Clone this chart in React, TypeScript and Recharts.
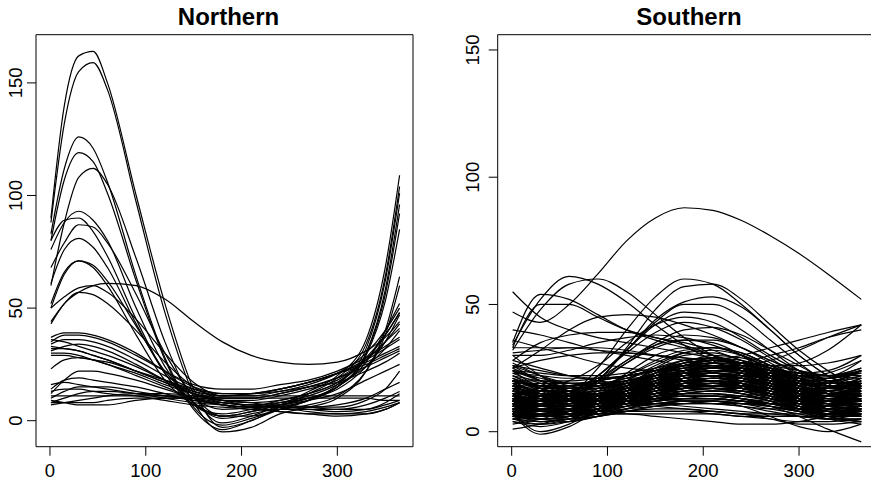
import React from "react";
import { LineChart, Line, XAxis, YAxis, ReferenceArea } from "recharts";

// ---------- Northern panel ----------
const northDays = [1, 15, 30, 45, 60, 90, 120, 150, 180, 210, 240, 270, 300, 330, 350, 365];

const northTall: number[][] = [
  [90, 140, 162, 164, 150, 100, 52, 14, -3, 0, 6, 12, 19, 34, 64, 104],
  [88, 132, 155, 159, 147, 97, 48, 12, -1, 2, 7, 13, 20, 36, 68, 109],
  [83, 112, 126, 121, 106, 64, 28, 6, -2, 1, 5, 9, 15, 30, 58, 96],
  [80, 107, 119, 115, 101, 62, 27, 5, -4, 0, 5, 9, 16, 32, 62, 101],
  [60, 88, 108, 112, 105, 72, 35, 8, -5, -3, 3, 6, 10, 22, 40, 64],
];

const northPeaked: number[][] = [
  [76, 88, 93, 89, 80, 50, 24, 8, 1, 3, 6, 9, 15, 30, 56, 92],
  [80, 89, 90, 84, 73, 45, 21, 7, 2, 4, 7, 10, 15, 29, 53, 85],
  [68, 79, 87, 86, 79, 56, 30, 11, 2, 2, 5, 7, 11, 22, 38, 60],
  [61, 76, 81, 77, 68, 43, 21, 8, 2, 4, 7, 10, 15, 26, 40, 52],
  [50, 65, 71, 69, 62, 42, 22, 10, 5, 6, 9, 12, 17, 27, 38, 48],
  [52, 66, 71, 68, 60, 38, 18, 7, 3, 5, 8, 11, 16, 24, 32, 40],
  [44, 52, 57, 60, 61, 60, 54, 44, 35, 29, 26, 25, 26, 31, 37, 44],
  [50, 55, 59, 60, 57, 45, 30, 17, 11, 11, 13, 16, 21, 30, 40, 50],
  [43, 52, 57, 56, 52, 40, 26, 15, 10, 10, 12, 15, 19, 27, 35, 43],
];

const northMid: number[][] = [
  [35, 38, 38, 37, 35, 29, 22, 16, 14, 14, 16, 18, 22, 28, 33, 37],
  [37, 39, 39, 38, 36, 30, 22, 15, 12, 12, 14, 17, 21, 27, 32, 36],
  [34, 36, 36, 35, 33, 27, 20, 14, 11, 12, 14, 17, 21, 26, 30, 33],
  [32, 32, 31, 29, 27, 22, 17, 13, 11, 12, 14, 17, 21, 25, 29, 32],
  [30, 30, 29, 27, 25, 21, 16, 12, 10, 10, 12, 15, 19, 24, 28, 31],
  [33, 32, 31, 29, 27, 22, 17, 12, 9, 9, 11, 14, 18, 27, 35, 41],
  [36, 35, 33, 31, 29, 24, 18, 13, 9, 8, 9, 12, 17, 28, 38, 48],
  [29, 29, 28, 27, 26, 22, 18, 14, 12, 12, 13, 15, 17, 22, 26, 30],
  [31, 33, 34, 33, 31, 25, 18, 12, 8, 7, 8, 10, 14, 24, 35, 47],
  [23, 27, 28, 27, 25, 20, 15, 10, 7, 6, 7, 9, 12, 18, 22, 25],
];

const northLow: number[][] = [
  [12, 18, 22, 22, 21, 18, 14, 10, 7, 5, 5, 5, 5, 7, 10, 13],
  [14, 18, 19, 18, 17, 15, 12, 9, 7, 6, 6, 5, 4, 5, 8, 12],
  [10, 13, 15, 15, 15, 13, 11, 9, 8, 7, 7, 6, 5, 5, 7, 9],
  [8, 8, 8, 8, 9, 10, 10, 10, 10, 10, 10, 10, 10, 10, 9, 9],
  [9, 8, 7, 7, 7, 9, 10, 10, 9, 8, 6, 4, 3, 3, 5, 8],
  [11, 11, 11, 11, 11, 11, 11, 11, 11, 11, 11, 11, 11, 11, 11, 11],
  [16, 17, 16, 15, 14, 12, 10, 8, 7, 6, 6, 6, 7, 10, 14, 17],
  [13, 14, 14, 13, 12, 11, 9, 7, 6, 5, 4, 3, 2, 3, 5, 8],
  [8, 10, 12, 13, 13, 12, 11, 10, 8, 7, 6, 6, 6, 9, 14, 22],
  [7, 8, 9, 10, 11, 12, 12, 11, 9, 6, 4, 3, 3, 4, 6, 8],
];

// ---------- Southern panel ----------
const southDays = [1, 30, 60, 90, 120, 150, 180, 210, 240, 270, 300, 330, 365];

const southUpper: number[][] = [
  [47, 43, 50, 62, 75, 84, 88, 87, 83, 77, 70, 62, 52],
  [55, 45, 40, 37, 35, 33, 31, 29, 27, 26, 27, 32, 42],
  [34, 52, 61, 58, 51, 42, 34, 28, 22, 17, 14, 12, 18],
  [32, 48, 58, 60, 55, 46, 37, 30, 25, 21, 18, 16, 20],
  [35, 54, 52, 46, 40, 36, 33, 30, 27, 24, 22, 22, 28],
  [33, 50, 50, 45, 40, 37, 35, 32, 28, 25, 23, 24, 30],
  [25, 32, 40, 45, 46, 45, 42, 38, 33, 28, 24, 22, 24],
];

const southSummer: number[][] = [
  [12, 10, 14, 25, 40, 53, 60, 58, 50, 40, 30, 22, 15],
  [15, 12, 13, 20, 33, 48, 57, 58, 52, 42, 32, 24, 17],
  [18, 15, 16, 22, 32, 44, 51, 53, 49, 40, 30, 22, 18],
  [10, 9, 12, 20, 32, 43, 50, 50, 45, 36, 27, 19, 12],
  [14, 13, 15, 22, 32, 42, 47, 46, 40, 32, 24, 18, 14],
  [20, 18, 20, 26, 35, 42, 45, 43, 37, 30, 24, 20, 19],
  [12, 12, 15, 22, 31, 39, 43, 41, 36, 29, 22, 16, 12],
  [16, 14, 16, 21, 28, 35, 40, 41, 38, 32, 26, 20, 16],
  [10, 10, 13, 19, 27, 34, 38, 37, 33, 27, 21, 15, 10],
  [15, 12, 14, 20, 28, 34, 36, 35, 30, 22, 14, 9, 10],
  [20, 16, 16, 20, 27, 33, 36, 36, 33, 28, 23, 19, 19],
  [12, 11, 12, 16, 23, 30, 33, 33, 30, 24, 17, 12, 12],
];

const southFlat: number[][] = [
  [40, 38, 35, 32, 30, 28, 26, 25, 26, 28, 32, 37, 42],
  [36, 33, 30, 27, 25, 24, 24, 25, 27, 30, 33, 37, 40],
  [33, 33, 33, 32, 31, 30, 29, 28, 27, 26, 26, 27, 30],
  [31, 32, 33, 33, 32, 30, 28, 26, 24, 22, 21, 23, 28],
  [28, 35, 38, 39, 39, 37, 34, 30, 26, 22, 20, 20, 24],
  [30, 30, 32, 35, 37, 38, 37, 34, 30, 25, 20, 17, 20],
  [20, 18, 18, 20, 22, 24, 26, 28, 30, 33, 36, 39, 42],
  [25, 28, 30, 31, 31, 30, 29, 27, 25, 23, 21, 21, 24],
];

const southMassA: number[][] = [
  [8, 6, 7, 10, 14, 18, 20, 20, 18, 14, 10, 7, 8],
  [10, 8, 9, 11, 14, 17, 19, 19, 17, 14, 11, 9, 10],
  [12, 10, 10, 12, 15, 18, 21, 22, 21, 18, 14, 11, 12],
  [6, 5, 6, 8, 11, 14, 16, 17, 16, 13, 9, 6, 6],
  [14, 12, 12, 13, 15, 17, 19, 19, 18, 16, 14, 13, 14],
  [18, 14, 12, 12, 14, 17, 20, 21, 20, 17, 14, 13, 16],
  [22, 17, 14, 14, 16, 19, 22, 23, 21, 18, 15, 14, 18],
  [25, 20, 16, 15, 16, 18, 21, 22, 21, 19, 17, 17, 21],
  [9, 7, 8, 9, 11, 13, 14, 14, 13, 11, 9, 8, 9],
  [7, 7, 8, 9, 10, 11, 12, 12, 11, 10, 8, 7, 7],
  [5, 4, 5, 7, 9, 11, 12, 12, 11, 9, 7, 5, 5],
  [11, 11, 11, 11, 11, 11, 11, 11, 11, 11, 11, 11, 11],
  [16, 15, 14, 14, 15, 16, 17, 17, 16, 15, 14, 14, 16],
  [20, 18, 16, 15, 15, 16, 17, 18, 18, 17, 16, 16, 19],
  [13, 9, 8, 10, 14, 19, 24, 26, 25, 21, 16, 12, 13],
  [9, 6, 7, 11, 16, 22, 26, 27, 24, 19, 13, 9, 9],
  [11, 8, 9, 13, 18, 23, 27, 28, 26, 21, 15, 11, 11],
  [15, 11, 10, 12, 17, 23, 28, 29, 27, 22, 17, 14, 15],
  [7, 4, 5, 9, 14, 19, 22, 23, 21, 17, 12, 8, 7],
  [4, 2, 4, 8, 12, 16, 19, 20, 18, 14, 9, 5, 4],
  [7, -1, 2, 8, 11, 12, 13, 13, 12, 10, 8, 7, 7],
  [8, 0, 3, 9, 12, 13, 14, 14, 13, 11, 9, 8, 8],
  [1, 3, 6, 9, 11, 13, 14, 14, 13, 11, 8, 5, 3],
  [10, 12, 13, 13, 12, 11, 10, 9, 8, 7, 6, 5, 7],
  [12, 13, 13, 12, 11, 10, 9, 8, 7, 6, 6, 7, 10],
  [14, 16, 16, 15, 14, 13, 12, 11, 10, 9, 9, 10, 13],
  [6, 7, 7, 7, 7, 7, 7, 7, 6, 6, 6, 6, 6],
  [8, 8, 8, 8, 8, 8, 8, 8, 7, 7, 7, 7, 8],
  [5, 6, 7, 8, 8, 8, 8, 7, 6, 5, 4, 4, 5],
  [12, 8, 7, 9, 12, 15, 17, 17, 15, 12, 9, 7, 9],
  [17, 13, 11, 11, 13, 16, 19, 20, 19, 16, 12, 10, 13],
  [19, 15, 13, 13, 15, 18, 22, 24, 23, 20, 16, 14, 17],
  [21, 17, 15, 16, 19, 23, 26, 26, 24, 20, 17, 16, 19],
  [24, 20, 17, 17, 19, 22, 25, 25, 23, 21, 19, 19, 22],
  [27, 22, 18, 17, 18, 20, 22, 23, 22, 21, 20, 21, 24],
  [10, 9, 10, 13, 17, 21, 24, 25, 24, 20, 15, 11, 10],
  [13, 12, 12, 14, 17, 20, 23, 24, 23, 21, 17, 14, 13],
  [8, 8, 10, 13, 16, 18, 20, 20, 19, 16, 12, 9, 8],
  [6, 6, 8, 11, 14, 16, 18, 19, 18, 15, 11, 8, 6],
  [15, 14, 14, 15, 17, 19, 20, 20, 19, 17, 15, 14, 15],
];

const southMassB: number[][] = [
  [11, 10, 11, 13, 15, 17, 18, 18, 17, 15, 12, 10, 11],
  [9, 8, 9, 10, 12, 14, 16, 17, 17, 16, 13, 10, 9],
  [13, 11, 11, 12, 13, 15, 16, 17, 17, 16, 15, 13, 13],
  [18, 16, 15, 15, 16, 18, 20, 21, 21, 20, 19, 18, 18],
  [22, 20, 19, 19, 20, 22, 24, 25, 25, 24, 23, 22, 22],
  [16, 14, 13, 14, 16, 19, 22, 23, 22, 19, 16, 14, 15],
  [12, 11, 11, 12, 14, 16, 17, 17, 16, 14, 12, 11, 12],
  [7, 6, 7, 8, 10, 12, 13, 13, 12, 10, 8, 7, 7],
  [10, 10, 10, 11, 12, 13, 13, 13, 12, 11, 10, 9, 10],
  [9, 9, 9, 10, 11, 12, 13, 14, 14, 13, 11, 9, 9],
  [14, 12, 12, 13, 15, 18, 21, 23, 23, 21, 18, 15, 14],
  [17, 15, 14, 15, 17, 20, 23, 24, 23, 20, 17, 15, 16],
  [20, 17, 15, 15, 17, 20, 23, 25, 25, 23, 20, 18, 19],
  [11, 9, 9, 11, 14, 18, 21, 22, 21, 18, 14, 11, 11],
  [6, 5, 6, 9, 12, 15, 17, 18, 17, 14, 10, 7, 6],
  [8, 7, 8, 11, 14, 17, 19, 20, 19, 16, 12, 9, 8],
  [16, 13, 12, 13, 15, 17, 18, 18, 17, 15, 13, 13, 15],
  [12, 12, 13, 15, 18, 21, 23, 23, 21, 17, 13, 11, 12],
  [5, 5, 6, 7, 8, 9, 9, 8, 7, 5, 3, 3, 4],
  [8, 7, 7, 7, 7, 6, 5, 4, 3, 3, 4, 6, 8],
  [6, 5, 5, 6, 8, 10, 12, 12, 10, 6, 2, 0, 3],
  [10, 9, 9, 10, 11, 13, 15, 15, 13, 10, 6, 1, -4],
  [28, 25, 22, 20, 19, 19, 20, 21, 22, 22, 22, 22, 25],
  [26, 24, 22, 21, 21, 22, 23, 24, 24, 23, 22, 21, 23],
  [23, 22, 21, 21, 22, 24, 26, 27, 26, 24, 21, 19, 20],
  [18, 17, 17, 18, 20, 22, 24, 25, 25, 23, 20, 17, 17],
  [15, 15, 16, 17, 19, 21, 22, 22, 21, 19, 16, 14, 14],
  [13, 14, 15, 16, 17, 18, 18, 18, 17, 15, 13, 12, 12],
  [10, 11, 12, 13, 14, 15, 15, 15, 14, 13, 11, 10, 10],
  [8, 9, 10, 11, 12, 13, 13, 13, 12, 11, 10, 8, 8],
  [20, 14, 11, 12, 16, 21, 26, 28, 27, 23, 18, 15, 18],
  [24, 17, 12, 11, 13, 17, 21, 23, 22, 19, 15, 14, 19],
  [30, 22, 16, 14, 15, 19, 23, 25, 24, 21, 18, 19, 24],
  [26, 20, 17, 18, 22, 27, 31, 32, 30, 26, 22, 21, 24],
  [11, 8, 8, 11, 16, 22, 27, 30, 29, 25, 18, 12, 11],
  [14, 10, 10, 14, 20, 26, 31, 33, 31, 26, 20, 15, 14],
  [9, 7, 8, 12, 18, 25, 30, 31, 28, 22, 15, 10, 9],
  [17, 14, 14, 17, 22, 28, 32, 33, 31, 26, 21, 17, 17],
  [12, 10, 11, 14, 19, 24, 28, 29, 27, 22, 16, 12, 12],
  [21, 18, 17, 18, 21, 25, 28, 29, 28, 25, 22, 20, 21],
];

const southMassC: number[][] = [
  [3, 5, 8, 11, 13, 14, 15, 15, 14, 12, 9, 6, 4],
  [4, 3, 5, 9, 13, 17, 20, 21, 19, 15, 10, 6, 4],
  [9, 11, 13, 15, 17, 19, 20, 20, 18, 15, 12, 10, 9],
  [12, 14, 16, 18, 20, 22, 23, 23, 22, 19, 16, 13, 12],
  [15, 17, 18, 20, 22, 24, 26, 26, 25, 22, 18, 16, 15],
  [19, 19, 19, 20, 22, 24, 26, 27, 26, 24, 21, 19, 19],
  [24, 23, 22, 22, 23, 25, 27, 28, 27, 25, 23, 22, 23],
  [21, 16, 13, 13, 16, 20, 24, 26, 26, 23, 19, 17, 20],
  [17, 12, 10, 11, 14, 18, 22, 24, 24, 21, 17, 15, 17],
  [13, 9, 8, 9, 12, 16, 19, 21, 21, 18, 14, 12, 13],
  [10, 7, 7, 9, 12, 15, 18, 19, 18, 15, 11, 9, 10],
  [7, 5, 6, 8, 10, 13, 15, 16, 15, 12, 9, 7, 7],
  [5, 4, 5, 6, 8, 10, 11, 11, 10, 8, 6, 5, 5],
  [14, 13, 13, 14, 16, 18, 20, 21, 20, 18, 15, 14, 14],
  [16, 16, 17, 18, 19, 20, 21, 21, 20, 18, 16, 15, 16],
  [18, 18, 18, 19, 20, 21, 22, 22, 21, 20, 19, 18, 18],
  [11, 12, 13, 15, 17, 19, 21, 22, 21, 19, 15, 12, 11],
  [8, 9, 11, 13, 16, 19, 21, 22, 21, 18, 13, 9, 8],
  [6, 7, 9, 12, 15, 18, 21, 22, 20, 16, 11, 7, 6],
  [20, 18, 17, 18, 20, 23, 25, 26, 25, 22, 19, 17, 19],
  [23, 19, 16, 16, 18, 21, 24, 26, 26, 24, 21, 20, 22],
  [26, 22, 19, 18, 19, 21, 23, 24, 24, 23, 22, 22, 25],
  [15, 12, 11, 12, 15, 19, 23, 25, 24, 20, 15, 12, 14],
  [12, 9, 9, 12, 16, 20, 24, 25, 23, 18, 13, 10, 11],
  [9, 6, 6, 9, 13, 17, 20, 21, 19, 15, 11, 8, 9],
  [11, 10, 10, 11, 13, 15, 17, 18, 18, 17, 15, 12, 11],
  [13, 12, 12, 13, 14, 16, 18, 19, 20, 19, 17, 14, 13],
  [16, 15, 15, 16, 17, 19, 21, 22, 22, 21, 19, 17, 16],
  [8, 7, 8, 9, 11, 13, 15, 16, 16, 15, 13, 10, 8],
  [6, 6, 7, 8, 9, 10, 11, 12, 12, 11, 10, 8, 6],
  [10, 8, 8, 9, 10, 11, 12, 12, 11, 10, 9, 9, 10],
  [14, 11, 10, 10, 11, 12, 13, 13, 12, 11, 11, 12, 14],
  [18, 14, 12, 11, 12, 13, 14, 14, 13, 12, 12, 14, 17],
  [22, 18, 15, 14, 14, 15, 16, 16, 15, 14, 15, 17, 21],
  [12, 10, 10, 12, 15, 19, 22, 23, 22, 19, 16, 13, 12],
  [7, 5, 5, 7, 10, 14, 17, 19, 19, 16, 12, 9, 7],
  [5, 3, 4, 6, 9, 12, 15, 16, 15, 12, 8, 5, 5],
  [9, 8, 9, 11, 14, 17, 20, 22, 22, 20, 16, 12, 9],
  [17, 16, 16, 17, 19, 22, 25, 27, 27, 25, 21, 18, 17],
  [20, 20, 20, 21, 22, 24, 26, 27, 27, 26, 24, 22, 21],
  [13, 13, 14, 15, 16, 17, 18, 18, 17, 15, 13, 12, 13],
  [10, 10, 11, 12, 13, 14, 15, 16, 16, 15, 13, 11, 10],
  [16, 13, 12, 12, 13, 15, 17, 18, 18, 17, 15, 14, 15],
  [19, 15, 13, 13, 15, 18, 21, 22, 21, 19, 16, 15, 18],
  [11, 7, 6, 8, 11, 15, 18, 20, 20, 17, 13, 10, 11],
  [8, 5, 4, 6, 9, 13, 16, 17, 16, 13, 9, 7, 8],
  [15, 13, 13, 15, 18, 22, 26, 28, 27, 24, 19, 15, 15],
  [12, 11, 12, 14, 18, 23, 27, 28, 26, 21, 16, 12, 12],
  [7, 6, 7, 9, 12, 15, 17, 17, 16, 13, 10, 8, 7],
  [24, 21, 19, 19, 21, 24, 27, 28, 27, 24, 20, 18, 21],
];

const axisTicks = [0, 50, 100, 150];
const dayTicks = [0, 100, 200, 300];

const northCurves = [...northTall, ...northPeaked, ...northMid, ...northLow];
const southCurves = [
  ...southUpper,
  ...southSummer,
  ...southFlat,
  ...southMassA,
  ...southMassB,
  ...southMassC,
];

function buildRows(days: number[], curves: number[][], prefix: string) {
  return days.map((d, i) => {
    const row: Record<string, number> = { day: d };
    curves.forEach((c, j) => {
      row[prefix + j] = c[i];
    });
    return row;
  });
}

const northRows = buildRows(northDays, northCurves, "n");
const southRows = buildRows(southDays, southCurves, "s");

const FONT = "'Liberation Sans', Arial, Helvetica, sans-serif";

const makeXTick = (dy: number) => (props: any) => {
  const { x, y, payload } = props;
  return (
    <text x={x} y={y} dy={dy} textAnchor="middle" fontSize={18.5} fontFamily={FONT} fill="#000">
      {payload.value}
    </text>
  );
};

const makeYTick = (dx: number) => (props: any) => {
  const { x, y, payload } = props;
  const tx = x + dx;
  return (
    <text
      x={tx}
      y={y}
      transform={`rotate(-90, ${tx}, ${y})`}
      textAnchor="middle"
      fontSize={18.5}
      fontFamily={FONT}
      fill="#000"
    >
      {payload.value}
    </text>
  );
};

const xDomain: [number, number] = [-14.6, 379];
const northY: [number, number] = [-11.55, 171.4];
const southY: [number, number] = [-5.89, 156];

interface PanelProps {
  rows: Record<string, number>[];
  count: number;
  prefix: string;
  yDomain: [number, number];
  yAxisWidth: number;
  rightMargin: number;
  yTickDx: number;
}

function Panel({ rows, count, prefix, yDomain, yAxisWidth, rightMargin, yTickDx }: PanelProps) {
  const keys = Array.from({ length: count }, (_, j) => prefix + j);
  return (
    <LineChart
      width={440}
      height={483}
      data={rows}
      margin={{ top: 34.7, right: rightMargin, left: 0, bottom: 0 }}
    >
      <XAxis
        dataKey="day"
        type="number"
        domain={xDomain}
        ticks={dayTicks}
        allowDataOverflow
        axisLine={false}
        tickLine={{ stroke: "#000", strokeWidth: 1 }}
        tickSize={9}
        tickMargin={0}
        height={36.3}
        interval={0}
        tick={makeXTick(21.6)}
      />
      <YAxis
        type="number"
        domain={yDomain}
        ticks={axisTicks}
        allowDataOverflow
        axisLine={false}
        tickLine={{ stroke: "#000", strokeWidth: 1 }}
        tickSize={9}
        tickMargin={0}
        width={yAxisWidth}
        interval={0}
        tick={makeYTick(yTickDx)}
      />
      {keys.map((k) => (
        <Line
          key={k}
          dataKey={k}
          type="monotone"
          stroke="#000"
          strokeWidth={1.2}
          dot={false}
          activeDot={false}
          isAnimationActive={false}
        />
      ))}
      <ReferenceArea
        x1={xDomain[0]}
        x2={xDomain[1]}
        y1={yDomain[0]}
        y2={yDomain[1]}
        fill="none"
        fillOpacity={0}
        stroke="#000"
        strokeWidth={1}
        ifOverflow="visible"
      />
    </LineChart>
  );
}

const titleStyle = (cx: number): React.CSSProperties => ({
  position: "absolute",
  left: cx - 120,
  width: 240,
  top: 4.7,
  textAlign: "center",
  fontFamily: FONT,
  fontWeight: "bold",
  fontSize: 24,
  lineHeight: "24px",
  color: "#000",
});

export default function App() {
  return (
    <div
      style={{
        position: "absolute",
        left: 0,
        top: 0,
        width: 871,
        height: 483,
        overflow: "hidden",
        background: "#fff",
      }}
    >
      <div style={{ position: "absolute", left: 0, top: 0 }}>
        <Panel
          rows={northRows}
          count={northCurves.length}
          prefix="n"
          yDomain={northY}
          yAxisWidth={36}
          rightMargin={27}
          yTickDx={-5.3}
        />
      </div>
      <div style={{ position: "absolute", left: 436, top: 0 }}>
        <Panel
          rows={southRows}
          count={southCurves.length}
          prefix="s"
          yDomain={southY}
          yAxisWidth={61.7}
          rightMargin={1.3}
          yTickDx={-9.4}
        />
      </div>
      <div style={titleStyle(228.5)}>Northern</div>
      <div style={titleStyle(689)}>Southern</div>
    </div>
  );
}
